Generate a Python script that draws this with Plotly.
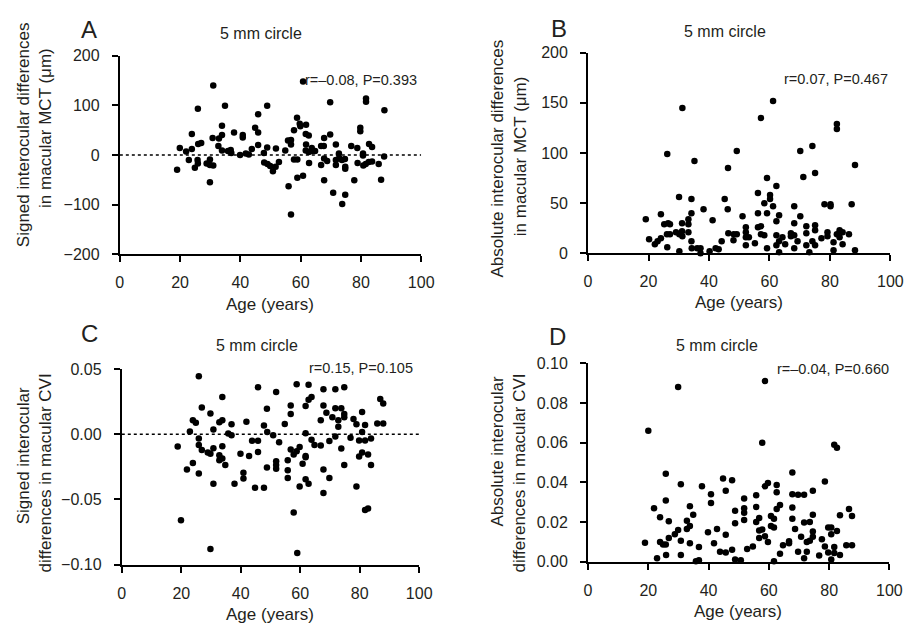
import plotly.graph_objects as go

W, H = 923, 635
FONT = "Liberation Sans, Arial, Helvetica, sans-serif"

# ---------------- Data ----------------
# Panel A: signed MCT differences (um)
a_age = [19.0, 19.9, 22, 22.9, 23.9, 23.9, 24.9, 25.8, 25.9, 25.9, 26, 27, 28.8, 29.9, 29.9, 29.9, 31, 31, 30.8, 32.7,
         32.9, 33.9, 33.9, 33.9, 34.9, 35.9, 36.8, 37, 37.9, 39.9, 40.8, 40.8, 41.8, 42.8, 43.8, 44.9, 45.9, 45.9, 45.9, 47.8,
         47.9, 48.9, 48.9, 49, 49.9, 50.8, 51.7, 51.8, 52.8, 54.9, 55.8, 56, 56.8, 56.8, 56.8, 57.8, 57.8, 58.8, 58.9, 58.9,
         59.7, 59.9, 60.8, 60.8, 61.7, 61.8, 61.7, 61.8, 62.7, 62.7, 62.8, 63.7, 63.7, 64.8, 66.8, 66.8, 67.7, 67.8, 67.8, 67.8,
         68.8, 69.8, 69.8, 70.8, 71.7, 71.7, 71.7, 72.7, 72.8, 73.7, 73.8, 74.7, 74.8, 74.8, 74.8, 76.8, 77.8, 78.8, 78.9, 79.8,
         79.8, 80.7, 80.8, 81.7, 81.7, 80.7, 81.6, 82.7, 82.6, 83.7, 83.7, 85.9, 86.7, 87.7, 87.8]
a_val = [-30, 14, 7, -10, 42, 12, -26, -10, 93, -17, 22, 24, -17, -9, -55, -20, 140, -21, 34, 18,
         33, 59, 40, 9, 99, 8, 10, 4, 45, 0, 40, 35, 3, 1, 12, 55, 45, 82, 20, 4,
         -15, 99, 15, -18, -22, -33, -24, 13, -14, 9, 29, -63, 21, -120, 30, 50, -9, 75, -9, -46,
         63, 58, -42, 148, 42, 61, 9, 21, 39, 6, -16, 14, 8, 8, -20, 18, 18, 34, -7, -51,
         -12, 41, 106, -76, 21, -10, -20, 3, -6, -10, -99, -8, -24, -28, -80, 18, -51, 14, -16, 55,
         48, 3, -21, 114, 107, -1, -18, 22, -14, 16, -13, -18, -50, -3, 90]

# Panel B: absolute MCT differences (um)
b_age = [19.1, 20.2, 22.1, 23, 24.1, 24.1, 25.2, 26.1, 26.2, 26.2, 26.5, 27.1, 27.1, 29.1, 30.1, 30.2, 30.2, 31.1, 31.1, 31.2,
         31.2, 33.2, 33.2, 33.2, 34.2, 34.2, 34.2, 34.3, 35.2, 36.1, 37.2, 37.2, 38.2, 40.2, 41.2, 42.2, 43.2, 44.2, 45.2, 46.2,
         46.3, 46.4, 48.1, 48.2, 49.2, 49.2, 51.1, 52.2, 52.2, 52.2, 52.2, 53.2, 55.2, 56.2, 56.2, 56.2, 57.2, 57.2, 57.2, 58.3,
         58.3, 59.2, 59.2, 59.2, 60.2, 60.2, 61.2, 61.2, 62.3, 62.3, 62.3, 62.3, 63.2, 63.2, 63.2, 64.3, 65.2, 67.1, 67.1, 68.2,
         68.2, 68.2, 68.2, 69.3, 70.2, 70.2, 71.2, 72.2, 72.2, 72.2, 73.2, 74.2, 74.2, 75.1, 75.1, 75.1, 75.1, 77.2, 78.2, 79.2,
         79.2, 80.2, 80.2, 81.2, 81.2, 82.3, 82.3, 82.3, 83.2, 83.2, 84.2, 84.2, 86.3, 87.2, 88.3, 88.3]
b_val = [34, 14, 9, 12, 15, 39, 29, 19, 6, 99, 30, 29, 19, 21, 56, 2, 19, 30, 22, 145,
         17, 34, 29, 21, 54, 40, 12, 5, 92, 5, 5, 0, 44, 2, 33, 5, 4, 12, 54, 44,
         85, 20, 13, 19, 102, 19, 37, 26, 21, 8, 16, 16, 10, 60, 40, 26, 135, 27, 19, 18,
         50, 75, 40, 5, 58, 54, 152, 47, 67, 32, 18, 8, 38, 12, 1, 16, 9, 20, 17, 47,
         30, 18, 5, 12, 102, 37, 76, 27, 20, 8, 1, 107, 12, 80, 28, 23, 8, 15, 49, 21,
         17, 49, 47, 11, 3, 129, 124, 19, 23, 16, 21, 9, 19, 49, 88, 3]

# Panel C: signed CVI differences
c_age = [18.8, 19.9, 21.9, 22.9, 23.9, 23.9, 24.9, 25.9, 25.9, 25.9, 25.9, 26.9, 26.9, 28.9, 29.8, 29.8, 29.8, 30.8, 30.8, 30.8,
         32.8, 32.8, 32.8, 33.8, 33.8, 33.8, 33.8, 34.8, 35.8, 36.9, 36.9, 37.9, 39.9, 40.9, 40.9, 41.9, 42.8, 43.8, 44.8, 45.8,
         45.8, 45.8, 47.8, 47.8, 48.8, 48.9, 48.8, 50.9, 51.9, 51.9, 51.9, 51.9, 52.9, 54.8, 55.8, 55.8, 55.8, 56.8, 56.8, 56.8,
         57.8, 57.8, 58.8, 58.8, 59.8, 59.0, 59.8, 60.8, 61.8, 61.8, 61.8, 61.8, 61.8, 62.8, 62.8, 62.8, 63.8, 63.8, 64.8, 66.9,
         66.9, 67.8, 67.8, 67.8, 67.8, 68.8, 69.8, 69.8, 70.8, 71.8, 71.8, 71.8, 72.8, 72.8, 73.8, 73.8, 74.8, 74.8, 74.8, 74.8,
         76.9, 77.9, 78.9, 78.9, 79.8, 79.8, 80.8, 80.8, 80.8, 81.8, 81.8, 81.8, 82.8, 82.8, 83.8, 83.8, 85.9, 86.9, 87.9, 87.9]
c_val = [-0.0094, -0.066, -0.027, 0.0022, -0.022, 0.0107, 0.0089, 0.0444, -0.0032, -0.0082, -0.030, 0.0206, -0.012, -0.014, -0.015, 0.016, -0.088, 0.0037, -0.0107, -0.038,
         0.0092, -0.016, -0.020, 0.0285, 0.0107, -0.0092, -0.0186, -0.0236, 0.0005, 0.0077, -0.0007, -0.038, -0.015, -0.0295, -0.034, 0.0097, -0.0166, -0.005, -0.041, 0.036,
         -0.005, -0.0136, -0.041, 0.0067, 0.0196, 0.0017, -0.0255, -0.0007, 0.0325, -0.0206, -0.0236, -0.0265, -0.0062, 0.0079, -0.020, -0.0275, -0.0335, 0.022, 0.0156, -0.0117,
         -0.0156, -0.060, 0.0384, -0.013, -0.0097, -0.091, -0.040, -0.0226, 0.0216, 0.0007, -0.0176, -0.0166, -0.0345, 0.038, 0.0265, -0.038, 0.0285, -0.0042, -0.0082, 0.0107,
         -0.0087, 0.0345, 0.022, -0.027, -0.045, 0.0166, -0.0052, -0.0335, 0.013, 0.0345, 0.020, -0.0017, 0.0107, 0.0057, 0.020, -0.011, 0.036, 0.0156, 0.013, -0.0236,
         -0.0027, 0.0117, 0.0077, -0.040, -0.0171, -0.0047, 0.0171, 0.0017, -0.014, 0.0072, -0.0047, -0.058, -0.057, -0.0156, -0.0032, -0.0236, 0.0082, 0.027, 0.0236, 0.0082]

# Panel D: absolute CVI differences
d_age = [18.9, 20, 21.9, 22.9, 23.9, 23.9, 24.9, 25.8, 25.8, 25.8, 25.9, 26.8, 26.8, 28.8, 29.9, 29.9, 30.8, 30.8, 30.8, 32.8,
         32.8, 33.8, 33.8, 33.8, 34.9, 35.8, 36.8, 36.8, 37.8, 39.8, 40.8, 40.8, 41.8, 42.8, 43.8, 44.8, 45.7, 45.7, 45.7, 47.8,
         47.8, 48.8, 48.8, 48.8, 50.7, 51.8, 51.8, 51.8, 51.8, 52.8, 54.7, 55.8, 55.8, 55.8, 56.8, 56.8, 56.8, 57.8, 57.8, 58.7,
         58.7, 58.7, 59.7, 59.7, 60.7, 60.7, 61.7, 61.7, 61.7, 62.6, 62.6, 62.6, 63.7, 63.7, 64.7, 66.7, 66.7, 67.8, 67.8, 67.8,
         67.8, 68.7, 69.7, 69.7, 70.7, 71.7, 71.7, 71.7, 72.6, 72.6, 73.6, 73.6, 74.6, 74.6, 74.6, 74.6, 76.7, 77.6, 78.6, 78.6,
         79.7, 79.7, 80.7, 80.7, 80.7, 81.7, 81.7, 81.7, 82.6, 82.6, 83.6, 83.6, 85.7, 86.6, 87.6, 87.6]
d_val = [0.0096, 0.066, 0.027, 0.0018, 0.0224, 0.010, 0.0087, 0.0443, 0.0309, 0.0087, 0.0034, 0.0204, 0.012, 0.0139, 0.088, 0.016, 0.039, 0.0106, 0.0034, 0.0207,
         0.0165, 0.028, 0.018, 0.0093, 0.0237, 0.0002, 0.0074, 0.0008, 0.038, 0.0149, 0.034, 0.0296, 0.0093, 0.0165, 0.005, 0.042, 0.0358, 0.0136, 0.0047, 0.006,
         0.041, 0.0257, 0.0194, 0.0011, 0.0008, 0.0319, 0.027, 0.0247, 0.021, 0.0064, 0.0077, 0.0335, 0.0276, 0.020, 0.022, 0.0158, 0.012, 0.060, 0.0162, 0.091,
         0.0129, 0.038, 0.0397, 0.010, 0.023, 0.018, 0.0217, 0.0172, 0.0002, 0.0387, 0.035, 0.0266, 0.0286, 0.0041, 0.0083, 0.0103, 0.0093, 0.045, 0.034, 0.0273,
         0.0217, 0.0165, 0.0338, 0.005, 0.0126, 0.0338, 0.0198, 0.0018, 0.010, 0.005, 0.020, 0.0106, 0.0358, 0.0237, 0.0152, 0.0126, 0.0031, 0.0113, 0.0404, 0.0077,
         0.0172, 0.0047, 0.0172, 0.0139, 0.0011, 0.059, 0.0074, 0.0044, 0.0574, 0.0155, 0.0034, 0.0234, 0.0083, 0.0266, 0.0083, 0.023]

panel_letters = ["A", "B", "C", "D"]
subtitle = "5 mm circle"
stats = ["r=–0.08, P=0.393", "r=0.07, P=0.467", "r=0.15, P=0.105", "r=–0.04, P=0.660"]
x_title = "Age (years)"
y_titles = [
    ["Signed interocular differences", "in macular MCT (μm)"],
    ["Absolute interocular differences", "in macular MCT (μm)"],
    ["Signed interocular", "differences in macular CVI"],
    ["Absolute interocular", "differences in macular CVI"],
]
y_ranges = [[-200, 200], [0, 200], [-0.10, 0.05], [0, 0.10]]
y_dticks = [100, 50, 0.05, 0.02]
y_formats = ["d", "d", ".2f", ".2f"]

# ---------------- Layout helpers ----------------
def px(x):
    return x / W

def py(y):
    return 1 - y / H

# plot-area boxes in pixels: (left, right, top, bottom)
boxes = [(118, 425, 49, 253), (595, 903, 46, 252), (120, 423, 371, 572), (595, 902, 365, 569)]

fig = go.Figure()
data = [(a_age, a_val), (b_age, b_val), (c_age, c_val), (d_age, d_val)]

axis_common = dict(showline=True, linecolor="black", linewidth=2, ticks="outside", ticklen=6,
                   tickwidth=2, tickcolor="black", showgrid=False, zeroline=False,
                   tickfont=dict(family=FONT, size=16, color="#231f20"))

for i, (xs, ys) in enumerate(data):
    n = i + 1
    xa = "x" if n == 1 else f"x{n}"
    ya = "y" if n == 1 else f"y{n}"
    fig.add_trace(go.Scatter(x=xs, y=ys, mode="markers", xaxis=xa, yaxis=ya,
                             marker=dict(size=6.5, color="black"), cliponaxis=False,
                             showlegend=False, hoverinfo="skip"))
    l, r, t, b = boxes[i]
    fig.update_layout(**{
        ("xaxis" if n == 1 else f"xaxis{n}"): dict(axis_common, domain=[px(l), px(r)], range=[0, 100],
                                                   tick0=0, dtick=20, anchor=ya, ticklabelstandoff=7),
        ("yaxis" if n == 1 else f"yaxis{n}"): dict(axis_common, domain=[py(b), py(t)], range=y_ranges[i],
                                                   tick0=y_ranges[i][0], dtick=y_dticks[i], tickformat=y_formats[i],
                                                   anchor=xa, ticklabelstandoff=9),
    })
    # dotted zero line on signed panels
    if i in (0, 2):
        fig.add_shape(type="line", xref=xa, yref=ya, x0=0, x1=100, y0=0, y1=0,
                      line=dict(color="black", width=1.5, dash="dot"))

annotations = []
def ann(text, x, y, size, xanchor="center", yanchor="middle", angle=0, color="#231f20"):
    annotations.append(dict(text=text, x=px(x), y=py(y), xref="paper", yref="paper", showarrow=False,
                            xanchor=xanchor, yanchor=yanchor, textangle=angle,
                            font=dict(family=FONT, size=size, color=color)))

letter_pos = [(87, 22), (565, 21), (87, 334), (564, 338)]
sub_pos = [(262, 26), (735, 24), (258, 347), (726, 347)]
stat_pos = [(423, 74), (903, 73), (419, 370), (904, 371)]
xt_pos = [(271, 305), (749, 303), (271, 623), (748, 620)]
yt_pos = [[(20, 130), (42, 123)], [(503, 155), (527, 152)], [(20, 460), (42, 478)], [(503, 455), (525, 478)]]

for i in range(4):
    ann(panel_letters[i], *letter_pos[i], 24)
    ann(subtitle, *sub_pos[i], 16)
    ann(stats[i], *stat_pos[i], 14.5, xanchor="right")
    ann(x_title, *xt_pos[i], 17)
    for j in range(2):
        ann(y_titles[i][j], *yt_pos[i][j], 17, angle=-90)

fig.update_layout(width=W, height=H, margin=dict(l=0, r=0, t=0, b=0),
                  paper_bgcolor="white", plot_bgcolor="white", annotations=annotations)

fig.write_html("out.html")
